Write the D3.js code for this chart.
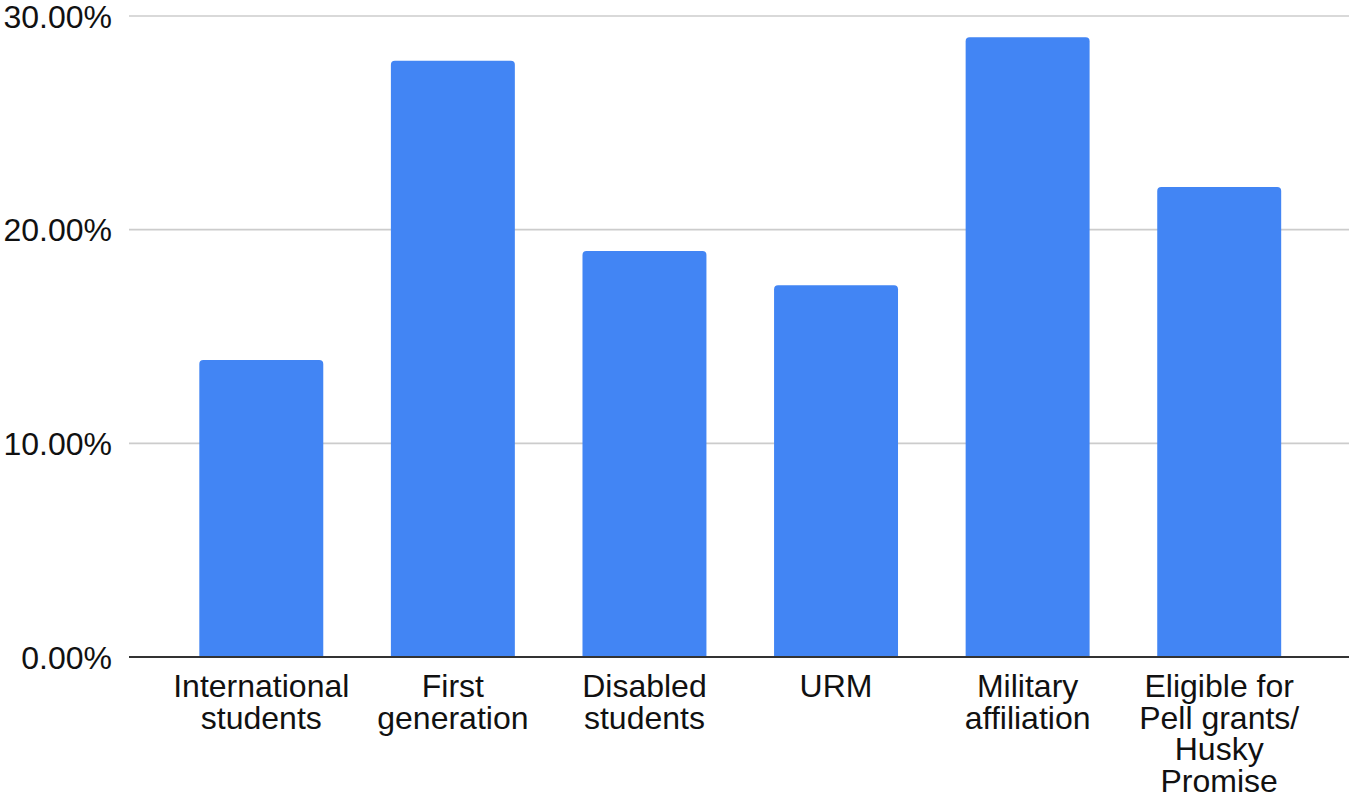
<!DOCTYPE html>
<html>
<head>
<meta charset="utf-8">
<script src="https://cdn.jsdelivr.net/npm/d3@7"></script>
<style>
  html, body { margin: 0; padding: 0; background: #fff; }
  svg { display: block; }
  text { font-family: "Liberation Sans", Arial, sans-serif; fill: #111; }
</style>
</head>
<body>
<svg id="chart" width="1351" height="797"></svg>
<script>
// Share of students in each group
const categories = [
  "International students",
  "First generation",
  "Disabled students",
  "URM",
  "Military affiliation",
  "Eligible for Pell grants/ Husky Promise"
];
const categoryLines = [
  ["International", "students"],
  ["First", "generation"],
  ["Disabled", "students"],
  ["URM"],
  ["Military", "affiliation"],
  ["Eligible for", "Pell grants/", "Husky", "Promise"]
];
const values = [0.139, 0.279, 0.190, 0.174, 0.290, 0.220];
const yTicks = [0, 0.10, 0.20, 0.30];
const yTickLabels = ["0.00%", "10.00%", "20.00%", "30.00%"];

const svg = d3.select("#chart");
const plotLeft = 129, plotRight = 1349;
const fontSize = 32;
const lineStep = 31.5;
const y = d3.scaleLinear().domain([0, 0.30]).range([657, 16]);
const x = d3.scaleBand()
  .domain(categories)
  .range([165.5, 1315])
  .paddingInner(0.353)
  .paddingOuter(0.1765);

// horizontal gridlines
svg.append("g")
  .selectAll("line")
  .data(yTicks.filter(t => t > 0))
  .join("line")
  .attr("x1", plotLeft).attr("x2", plotRight)
  .attr("y1", d => y(d)).attr("y2", d => y(d))
  .attr("stroke", "#cccccc").attr("stroke-width", 1.6);

// y-axis labels
svg.append("g")
  .selectAll("text")
  .data(yTicks)
  .join("text")
  .attr("x", 112)
  .attr("y", d => y(d))
  .attr("dy", "0.36em")
  .attr("text-anchor", "end")
  .attr("font-size", fontSize)
  .text((d, i) => yTickLabels[i]);

// bars with rounded top corners
const r = 4;
function barPath(d, i) {
  const x0 = x(categories[i]), w = x.bandwidth();
  const top = y(d), bottom = y(0);
  return `M${x0},${bottom} V${top + r} Q${x0},${top} ${x0 + r},${top} H${x0 + w - r} Q${x0 + w},${top} ${x0 + w},${top + r} V${bottom} Z`;
}
svg.append("g")
  .selectAll("path")
  .data(values)
  .join("path")
  .attr("d", barPath)
  .attr("fill", "#4285f4");

// baseline
svg.append("line")
  .attr("x1", plotLeft).attr("x2", plotRight)
  .attr("y1", y(0)).attr("y2", y(0))
  .attr("stroke", "#333333").attr("stroke-width", 2);

// category labels, wrapped onto several lines
const labels = svg.append("g")
  .selectAll("text")
  .data(categories)
  .join("text")
  .attr("text-anchor", "middle")
  .attr("font-size", fontSize)
  .attr("x", d => x(d) + x.bandwidth() / 2)
  .attr("y", 697);
labels.each(function (d, i) {
  d3.select(this).selectAll("tspan")
    .data(categoryLines[i])
    .join("tspan")
    .attr("x", x(d) + x.bandwidth() / 2)
    .attr("y", (t, j) => 697 + j * lineStep)
    .text(t => t);
});
</script>
</body>
</html>
